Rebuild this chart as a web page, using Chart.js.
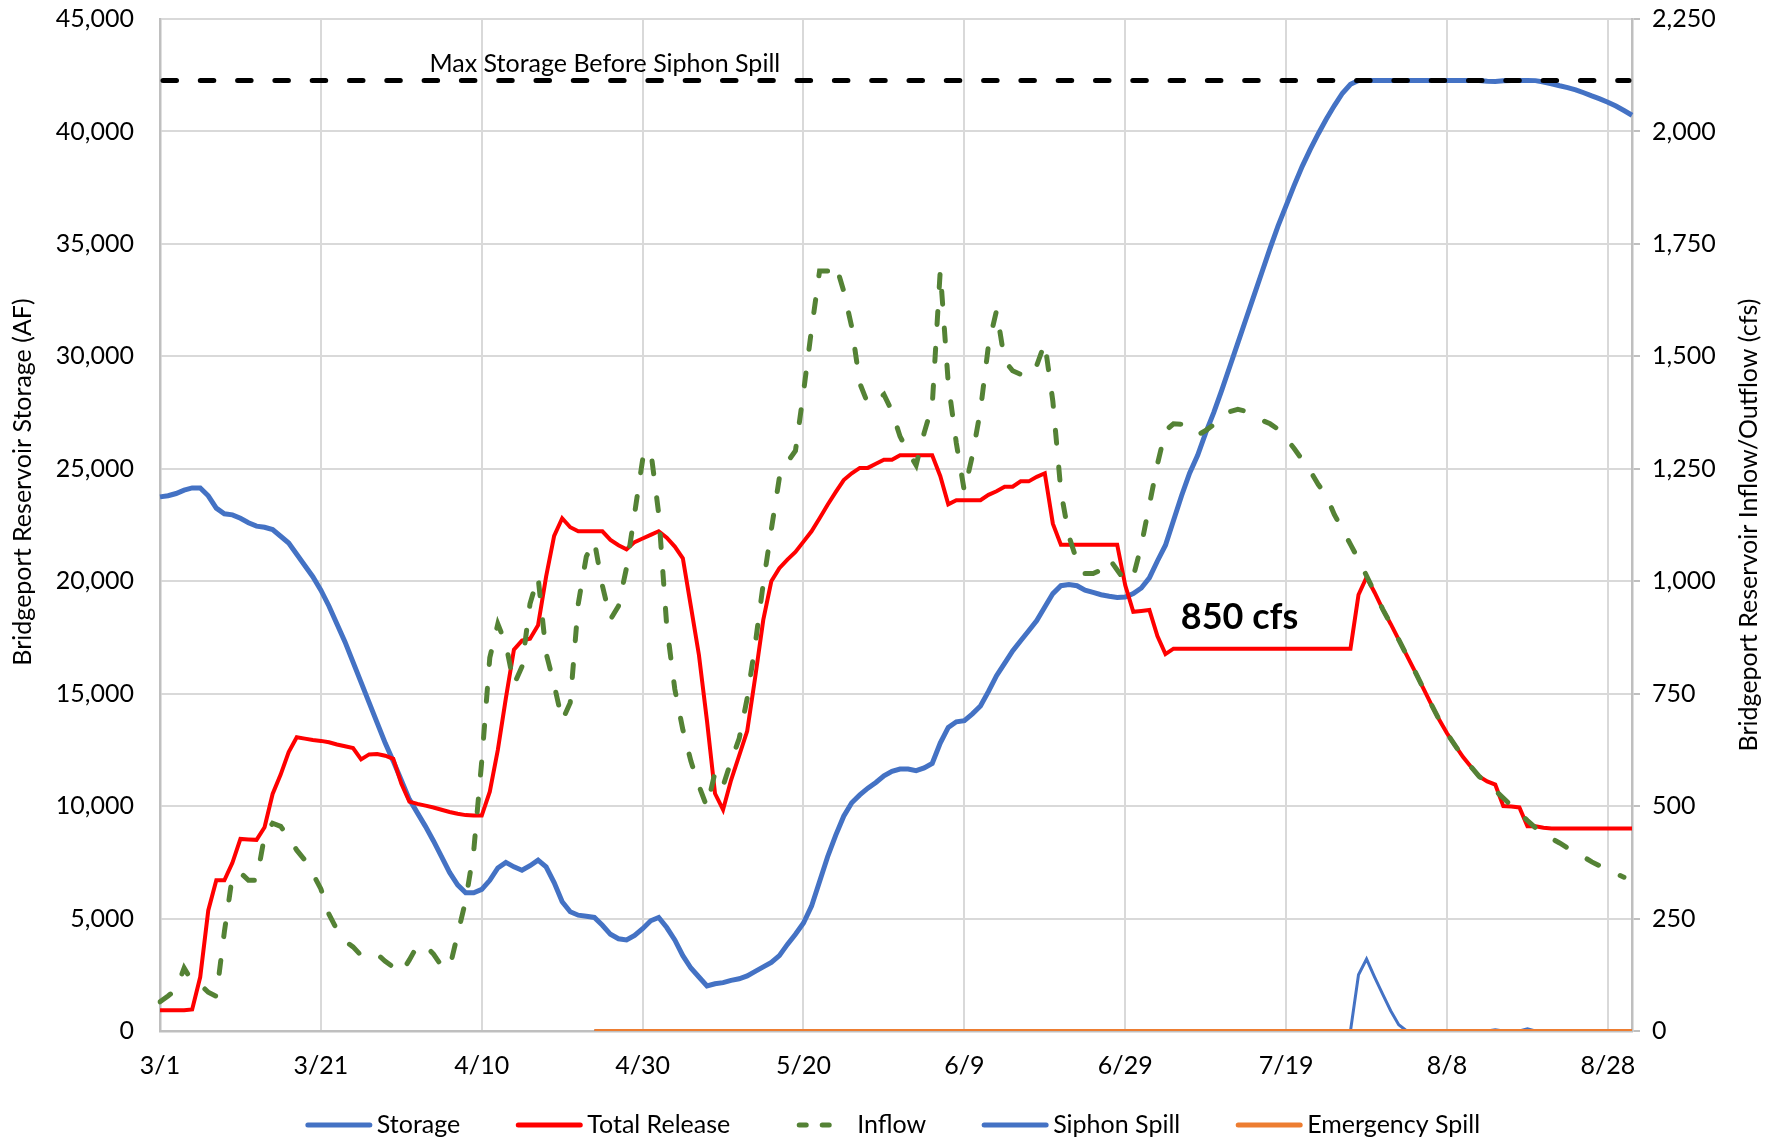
<!DOCTYPE html>
<html>
<head>
<meta charset="utf-8">
<title>Bridgeport Reservoir</title>
<script src="https://cdn.jsdelivr.net/npm/chart.js@4.4.1/dist/chart.umd.min.js"></script>
<style>
  html, body { margin: 0; padding: 0; background: #fff; }
  #wrap { width: 1777px; height: 1140px; }
</style>
</head>
<body>
<div id="wrap"><canvas id="chart" width="1777" height="1140"></canvas></div>
<script>
// daily values 3/1 .. 8/31
const storage = [
  23750, 23800, 23900, 24050, 24150, 24150, 23800, 23250, 23000, 22950,
  22800, 22600, 22450, 22400, 22300, 22000, 21700, 21200, 20700, 20200,
  19600, 18900, 18100, 17300, 16400, 15500, 14600, 13700, 12800, 12000,
  11150, 10300, 9700, 9100, 8450, 7750, 7050, 6500, 6150, 6150,
  6300, 6700, 7250, 7500, 7300, 7150, 7350, 7600, 7300, 6600,
  5750, 5300, 5150, 5100, 5050, 4700, 4300, 4100, 4050, 4250,
  4550, 4900, 5050, 4600, 4050, 3350, 2800, 2400, 2000, 2100,
  2150, 2250, 2320, 2450, 2650, 2850, 3050, 3350, 3850, 4300,
  4800, 5550, 6650, 7750, 8700, 9550, 10150, 10500, 10800, 11050,
  11350, 11550, 11650, 11650, 11580, 11700, 11900, 12800, 13500, 13750,
  13800, 14100, 14450, 15100, 15800, 16350, 16900, 17350, 17800, 18250,
  18850, 19450, 19800, 19850, 19800, 19600, 19500, 19400, 19330, 19280,
  19300, 19450, 19700, 20150, 20900, 21600, 22700, 23800, 24800, 25600,
  26600, 27500, 28500, 29550, 30600, 31650, 32700, 33750, 34800, 35800,
  36700, 37600, 38450, 39200, 39900, 40550, 41150, 41700, 42100, 42270,
  42270, 42270, 42270, 42270, 42270, 42270, 42270, 42270, 42270, 42270,
  42270, 42270, 42270, 42270, 42270, 42230, 42220, 42250, 42270, 42270,
  42270, 42260, 42200, 42120, 42030, 41950, 41850, 41720, 41580, 41450,
  41300, 41130, 40930, 40720
];

const totalRelease = [
  46, 46, 46, 46, 48, 120, 268, 335, 335, 374,
  427, 426, 425, 453, 527, 570, 620, 653, 650, 647,
  645, 642, 637, 633, 629, 604, 615, 616, 612, 605,
  550, 510, 505, 501, 497, 492, 487, 483, 480, 479,
  479, 532, 625, 740, 848, 868, 872, 902, 1010, 1101,
  1140, 1120, 1111, 1111, 1111, 1111, 1092, 1080, 1071, 1087,
  1095, 1103, 1111, 1097, 1077, 1051, 944, 836, 690, 528,
  492, 558, 612, 667, 787, 914, 1000, 1029, 1048, 1065,
  1088, 1111, 1140, 1170, 1198, 1225, 1240, 1252, 1252, 1261,
  1270, 1270, 1280, 1280, 1280, 1280, 1280, 1234, 1171, 1180,
  1180, 1180, 1180, 1192, 1200, 1210, 1210, 1222, 1222, 1232,
  1240, 1128, 1081, 1081, 1081, 1081, 1081, 1081, 1081, 1081,
  991, 932, 934, 936, 878, 838, 850, 850, 850, 850,
  850, 850, 850, 850, 850, 850, 850, 850, 850, 850,
  850, 850, 850, 850, 850, 850, 850, 850, 850, 970,
  1009, 975, 938, 905, 870, 835, 800, 764, 728, 693,
  662, 635, 609, 587, 566, 555, 548, 500, 499, 497,
  455, 455, 452, 450, 450, 450, 450, 450, 450, 450,
  450, 450, 450, 450
];

const inflow = [
  65, 78, 92, 140, 110, 104, 86, 77, 220, 345,
  352, 335, 335, 434, 462, 455, 430, 402, 380, 350,
  316, 260, 225, 200, 187, 168, 168, 171, 155, 142,
  129, 158, 190, 190, 171, 145, 140, 215, 290, 400,
  600, 830, 905, 860, 770, 810, 950, 1010, 840, 770,
  690, 730, 950, 1055, 1089, 990, 915, 945, 1030, 1150,
  1270, 1292, 1150, 900, 760, 670, 600, 545, 498, 575,
  545, 600, 650, 740, 860, 995, 1115, 1230, 1265, 1290,
  1420, 1560, 1690, 1690, 1705, 1645, 1565, 1440, 1395, 1400,
  1415, 1378, 1322, 1288, 1258, 1330, 1390, 1690, 1440, 1307,
  1200, 1280, 1380, 1525, 1602, 1490, 1468, 1460, 1455, 1480,
  1530, 1400, 1200, 1100, 1045, 1017, 1017, 1025, 1050, 1025,
  1000, 1010, 1080, 1170, 1260, 1335, 1350, 1349, 1335, 1325,
  1335, 1348, 1365, 1377, 1382, 1378, 1368, 1358, 1350, 1338,
  1318, 1295, 1270, 1245, 1215, 1190, 1148, 1115, 1082, 1048,
  1012, 975, 938, 905, 870, 835, 800, 764, 728, 693,
  662, 635, 609, 587, 566, 550, 535, 518, 501, 485,
  468, 452, 440, 428, 418, 407, 397, 387, 376, 367,
  358, 350, 342, null
];

const siphonSpill = [
  null, null, null, null, null, null, null, null, null, null,
  null, null, null, null, null, null, null, null, null, null,
  null, null, null, null, null, null, null, null, null, null,
  null, null, null, null, null, null, null, null, null, null,
  null, null, null, null, null, null, null, null, null, null,
  null, null, null, null, 0, 0, 0, 0, 0, 0,
  0, 0, 0, 0, 0, 0, 0, 0, 0, 0,
  0, 0, 0, 0, 0, 0, 0, 0, 0, 0,
  0, 0, 0, 0, 0, 0, 0, 0, 0, 0,
  0, 0, 0, 0, 0, 0, 0, 0, 0, 0,
  0, 0, 0, 0, 0, 0, 0, 0, 0, 0,
  0, 0, 0, 0, 0, 0, 0, 0, 0, 0,
  0, 0, 0, 0, 0, 0, 0, 0, 0, 0,
  0, 0, 0, 0, 0, 0, 0, 0, 0, 0,
  0, 0, 0, 0, 0, 0, 0, 0, 0, 125,
  160, 120, 82, 45, 14, 0, 0, 0, 0, 0,
  0, 0, 0, 0, 0, 0, 3, 0, 0, 0,
  5, 0, 0, 0, 0, 0, 0, 0, 0, 0,
  0, 0, 0, 0
];

const emergencySpill = [
  null, null, null, null, null, null, null, null, null, null,
  null, null, null, null, null, null, null, null, null, null,
  null, null, null, null, null, null, null, null, null, null,
  null, null, null, null, null, null, null, null, null, null,
  null, null, null, null, null, null, null, null, null, null,
  null, null, null, null, 0, 0, 0, 0, 0, 0,
  0, 0, 0, 0, 0, 0, 0, 0, 0, 0,
  0, 0, 0, 0, 0, 0, 0, 0, 0, 0,
  0, 0, 0, 0, 0, 0, 0, 0, 0, 0,
  0, 0, 0, 0, 0, 0, 0, 0, 0, 0,
  0, 0, 0, 0, 0, 0, 0, 0, 0, 0,
  0, 0, 0, 0, 0, 0, 0, 0, 0, 0,
  0, 0, 0, 0, 0, 0, 0, 0, 0, 0,
  0, 0, 0, 0, 0, 0, 0, 0, 0, 0,
  0, 0, 0, 0, 0, 0, 0, 0, 0, 0,
  0, 0, 0, 0, 0, 0, 0, 0, 0, 0,
  0, 0, 0, 0, 0, 0, 0, 0, 0, 0,
  0, 0, 0, 0, 0, 0, 0, 0, 0, 0,
  0, 0, 0, 0
];

const maxStorage = 42270;
const xTickLabels = ['3/1', '3/21', '4/10', '4/30', '5/20', '6/9', '6/29', '7/19', '8/8', '8/28'];

// one category per day, 3/1 .. 8/31
const dayLabels = [];
for (let d = new Date(2021, 2, 1); d <= new Date(2021, 7, 31); d.setDate(d.getDate() + 1)) {
  dayLabels.push((d.getMonth() + 1) + '/' + d.getDate());
}

const FONT = 'Lato';
const gridColor = '#D9D9D9';
const axisColor = '#BFBFBF';

const overlay = {
  id: 'overlay',
  afterDatasetsDraw(chart) {
    const {ctx, chartArea: a, scales} = chart;
    const x = scales.x, y = scales.y, y2 = scales.y2;
    ctx.save();

    // max storage line
    const yMax = y.getPixelForValue(maxStorage);
    ctx.strokeStyle = '#000';
    ctx.lineWidth = 5;
    ctx.lineCap = 'round';
    ctx.setLineDash([13.5, 23.8]);
    ctx.beginPath();
    ctx.moveTo(a.left + 3, yMax);
    ctx.lineTo(a.right - 3, yMax);
    ctx.stroke();
    ctx.setLineDash([]);

    ctx.fillStyle = '#000';
    ctx.font = '25px ' + FONT;
    ctx.textAlign = 'left';
    ctx.textBaseline = 'alphabetic';
    ctx.fillText('Max Storage Before Siphon Spill', x.getPixelForValue(33.5), yMax - 8);

    ctx.font = 'bold 36px ' + FONT;
    ctx.textBaseline = 'middle';
    ctx.fillText('850 cfs', x.getPixelForValue(126.9), y2.getPixelForValue(920));

    // axis titles
    ctx.font = '25px ' + FONT;
    ctx.textAlign = 'center';
    ctx.save();
    ctx.translate(23, 482);
    ctx.rotate(-Math.PI / 2);
    ctx.fillText('Bridgeport Reservoir Storage (AF)', 0, 0);
    ctx.restore();
    ctx.save();
    ctx.translate(1749, (a.top + a.bottom) / 2);
    ctx.rotate(-Math.PI / 2);
    ctx.fillText('Bridgeport Reservoir Inflow/Outflow (cfs)', 0, 0);
    ctx.restore();

    // legend along the bottom
    const sample = 68, gapText = 4, gapItem = 55, legendY = 1125;
    const items = chart.data.datasets;
    const widths = items.map(ds => sample + gapText + ctx.measureText(ds.label).width);
    const total = widths.reduce((s, w) => s + w, 0) + gapItem * (items.length - 1);
    let lx = chart.width / 2 + 4 - total / 2;
    ctx.textAlign = 'left';
    ctx.textBaseline = 'middle';
    items.forEach((ds, i) => {
      ctx.save();
      ctx.strokeStyle = ds.borderColor;
      ctx.lineWidth = 5;
      ctx.lineCap = 'round';
      if (ds.borderDash) {
        ctx.setLineDash([7, 16]);
        ctx.beginPath();
        ctx.moveTo(lx + 14, legendY);
        ctx.lineTo(lx + sample - 8, legendY);
      } else {
        ctx.beginPath();
        ctx.moveTo(lx + 3, legendY);
        ctx.lineTo(lx + sample - 3, legendY);
      }
      ctx.stroke();
      ctx.restore();
      ctx.fillText(ds.label, lx + sample + gapText, legendY);
      lx += widths[i] + gapItem;
    });

    ctx.restore();
  }
};

const fmt = v => Number(v).toLocaleString('en-US');

new Chart(document.getElementById('chart'), {
  type: 'line',
  data: {
    labels: dayLabels,
    datasets: [
      { label: 'Storage', data: storage, yAxisID: 'y', borderColor: '#4472C4', backgroundColor: '#4472C4', borderWidth: 5, order: 5 },
      { label: 'Total Release', data: totalRelease, yAxisID: 'y2', borderColor: '#FF0000', backgroundColor: '#FF0000', borderWidth: 4, order: 4 },
      { label: 'Inflow', data: inflow, yAxisID: 'y2', borderColor: '#548235', backgroundColor: '#548235', borderWidth: 5, borderDash: [13, 24], borderCapStyle: 'round', order: 3 },
      { label: 'Siphon Spill', data: siphonSpill, yAxisID: 'y2', borderColor: '#4472C4', backgroundColor: '#4472C4', borderWidth: 3, order: 2 },
      { label: 'Emergency Spill', data: emergencySpill, yAxisID: 'y2', borderColor: '#ED7D31', backgroundColor: '#ED7D31', borderWidth: 4, order: 1 }
    ]
  },
  options: {
    responsive: false,
    animation: false,
    devicePixelRatio: 1,
    layout: { padding: { top: 19, left: 0, right: 0, bottom: 0 }, autoPadding: false },
    elements: { point: { radius: 0, hitRadius: 0 }, line: { tension: 0 } },
    plugins: {
      tooltip: { enabled: false },
      legend: { display: false }
    },
    scales: {
      x: {
        type: 'category',
        offset: false,
        grid: {
          drawTicks: false,
          lineWidth: 2,
          color: c => (c.tick && c.tick.label) ? gridColor : 'rgba(0,0,0,0)'
        },
        border: { color: axisColor, width: 2.5 },
        ticks: {
          autoSkip: false,
          maxRotation: 0,
          padding: 20,
          color: '#000',
          font: { family: FONT, size: 25 },
          callback: (v, i) => xTickLabels.includes(dayLabels[i]) ? dayLabels[i] : null
        },
        afterFit: s => { s.height = 109; s.paddingLeft = 0; s.paddingRight = 0; }
      },
      y: {
        position: 'left',
        min: 0,
        max: 45000,
        grid: { color: gridColor, lineWidth: 2, drawTicks: false },
        border: { color: axisColor, width: 2.5 },
        ticks: { stepSize: 5000, padding: 26, color: '#000', font: { family: FONT, size: 25 }, callback: fmt },
        afterFit: s => { s.width = 160; s.paddingTop = 0; s.paddingBottom = 0; }
      },
      y2: {
        position: 'right',
        min: 0,
        max: 2250,
        grid: { drawOnChartArea: false, color: axisColor, lineWidth: 2, tickLength: 8 },
        border: { color: axisColor, width: 2.5 },
        ticks: { stepSize: 250, padding: 12, color: '#000', font: { family: FONT, size: 25 }, callback: fmt },
        afterFit: s => { s.width = 145; s.paddingTop = 0; s.paddingBottom = 0; }
      }
    }
  },
  plugins: [overlay]
});
</script>
</body>
</html>
